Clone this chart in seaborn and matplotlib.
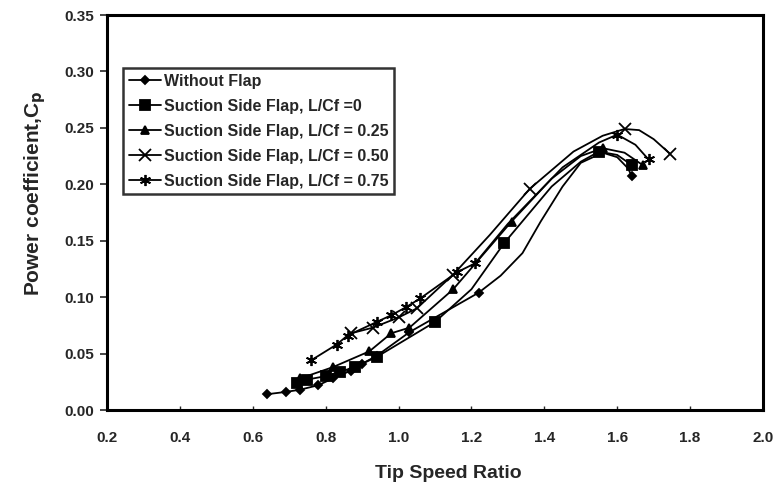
import matplotlib
matplotlib.use("Agg")
import matplotlib.pyplot as plt
import pandas as pd
import seaborn as sns

# data (tip speed ratio vs power coefficient)
# every series keeps the read curve points; *_marks lists which of them carry a marker
series_names = [
    "Without Flap",
    "Suction Side Flap, L/Cf =0",
    "Suction Side Flap, L/Cf = 0.25",
    "Suction Side Flap, L/Cf = 0.50",
    "Suction Side Flap, L/Cf = 0.75",
]

tsr_no_flap = [0.64, 0.69, 0.73, 0.78, 0.82, 0.87, 0.90, 0.94, 1.03, 1.22, 1.28, 1.34, 1.39, 1.45, 1.50, 1.56, 1.60, 1.63, 1.64]
cp_no_flap = [0.014, 0.016, 0.018, 0.022, 0.028, 0.035, 0.041, 0.048, 0.069, 0.104, 0.119, 0.139, 0.167, 0.198, 0.219, 0.228, 0.224, 0.214, 0.207]
marks_no_flap = [0, 1, 2, 3, 4, 5, 6, 7, 8, 9, 18]

tsr_flap0 = [0.72, 0.75, 0.80, 0.84, 0.88, 0.94, 1.10, 1.20, 1.29, 1.42, 1.50, 1.55, 1.60, 1.64]
cp_flap0 = [0.024, 0.027, 0.030, 0.034, 0.038, 0.047, 0.078, 0.107, 0.148, 0.198, 0.220, 0.229, 0.226, 0.217]
marks_flap0 = [0, 1, 2, 3, 4, 5, 6, 8, 11, 13]

tsr_flap25 = [0.73, 0.82, 0.92, 0.98, 1.03, 1.15, 1.31, 1.42, 1.50, 1.56, 1.62, 1.67]
cp_flap25 = [0.028, 0.038, 0.052, 0.068, 0.073, 0.107, 0.167, 0.205, 0.225, 0.232, 0.228, 0.217]
marks_flap25 = [0, 1, 2, 3, 4, 5, 6, 9, 11]

tsr_flap50 = [0.87, 0.93, 1.00, 1.05, 1.15, 1.25, 1.36, 1.48, 1.56, 1.62, 1.66, 1.70, 1.745]
cp_flap50 = [0.068, 0.073, 0.082, 0.090, 0.120, 0.155, 0.196, 0.229, 0.243, 0.249, 0.248, 0.240, 0.227]
marks_flap50 = [0, 1, 2, 3, 4, 6, 9, 12]

tsr_flap75 = [0.76, 0.83, 0.86, 0.94, 0.98, 1.02, 1.06, 1.16, 1.21, 1.30, 1.45, 1.55, 1.60, 1.65, 1.686]
cp_flap75 = [0.044, 0.058, 0.066, 0.078, 0.084, 0.091, 0.099, 0.122, 0.130, 0.165, 0.215, 0.237, 0.244, 0.235, 0.222]
marks_flap75 = [0, 1, 2, 3, 4, 5, 6, 7, 8, 12, 14]

x_ticks = [0.2, 0.4, 0.6, 0.8, 1.0, 1.2, 1.4, 1.6, 1.8, 2.0]
y_ticks = [0.00, 0.05, 0.10, 0.15, 0.20, 0.25, 0.30, 0.35]

series_x = [tsr_no_flap, tsr_flap0, tsr_flap25, tsr_flap50, tsr_flap75]
series_y = [cp_no_flap, cp_flap0, cp_flap25, cp_flap50, cp_flap75]
series_marks = [marks_no_flap, marks_flap0, marks_flap25, marks_flap50, marks_flap75]

markers = ["D", "s", "^", "x", (6, 2, 0)]
marker_sizes = [4.5, 6.5, 6, 9, 8]

sns.set_style("white")
plt.rcParams["font.family"] = ["Liberation Sans", "DejaVu Sans"]
plt.rcParams["font.weight"] = "bold"

fig = plt.figure(figsize=(7.78, 4.9), dpi=100)
ax = fig.add_axes([107 / 778, 80 / 490, 656 / 778, 395 / 490])

for name, xs, ys, idx, mk, ms in zip(series_names, series_x, series_y, series_marks, markers, marker_sizes):
    df = pd.DataFrame({"tsr": xs, "cp": ys})
    sns.lineplot(
        data=df,
        x="tsr",
        y="cp",
        marker=mk,
        markevery=idx,
        markersize=ms,
        color="black",
        markerfacecolor="black",
        markeredgecolor="black",
        markeredgewidth=1.3,
        linewidth=1.3,
        label=name,
        ax=ax,
    )

ax.set_xlim(0.2, 2.0)
ax.set_ylim(0.0, 0.35)
ax.set_xticks(x_ticks)
ax.set_yticks(y_ticks)
ax.set_xticklabels([f"{v:.1f}" for v in x_ticks], fontsize=11, fontweight="bold")
ax.set_yticklabels([f"{v:.2f}" for v in y_ticks], fontsize=11, fontweight="bold")
ax.tick_params(axis="y", direction="out", length=5, width=1.2, left=True, pad=4)
ax.tick_params(axis="x", direction="in", length=3, width=1.0, bottom=True, pad=15)

for spine in ax.spines.values():
    spine.set_visible(True)
    spine.set_color("black")
    spine.set_linewidth(2.2)

ax.set_xlabel("Tip Speed Ratio", fontsize=14, fontweight="bold")
ax.set_ylabel("Power coefficient,C$_\\mathbf{p}$", fontsize=15, fontweight="bold")
ax.xaxis.set_label_coords(0.52, -0.14)
ax.yaxis.set_label_coords(-0.09, 0.55)

leg = ax.legend(
    loc="upper left",
    bbox_to_anchor=(0.025, 0.865),
    fontsize=11.5,
    frameon=True,
    fancybox=False,
    edgecolor="black",
    handlelength=2.0,
    handletextpad=0.2,
    borderpad=0.35,
    labelspacing=0.62,
    borderaxespad=0,
)
leg.get_frame().set_linewidth(1.8)
for t in leg.get_texts():
    t.set_fontweight("bold")

fig.savefig("out.png", dpi=100)
